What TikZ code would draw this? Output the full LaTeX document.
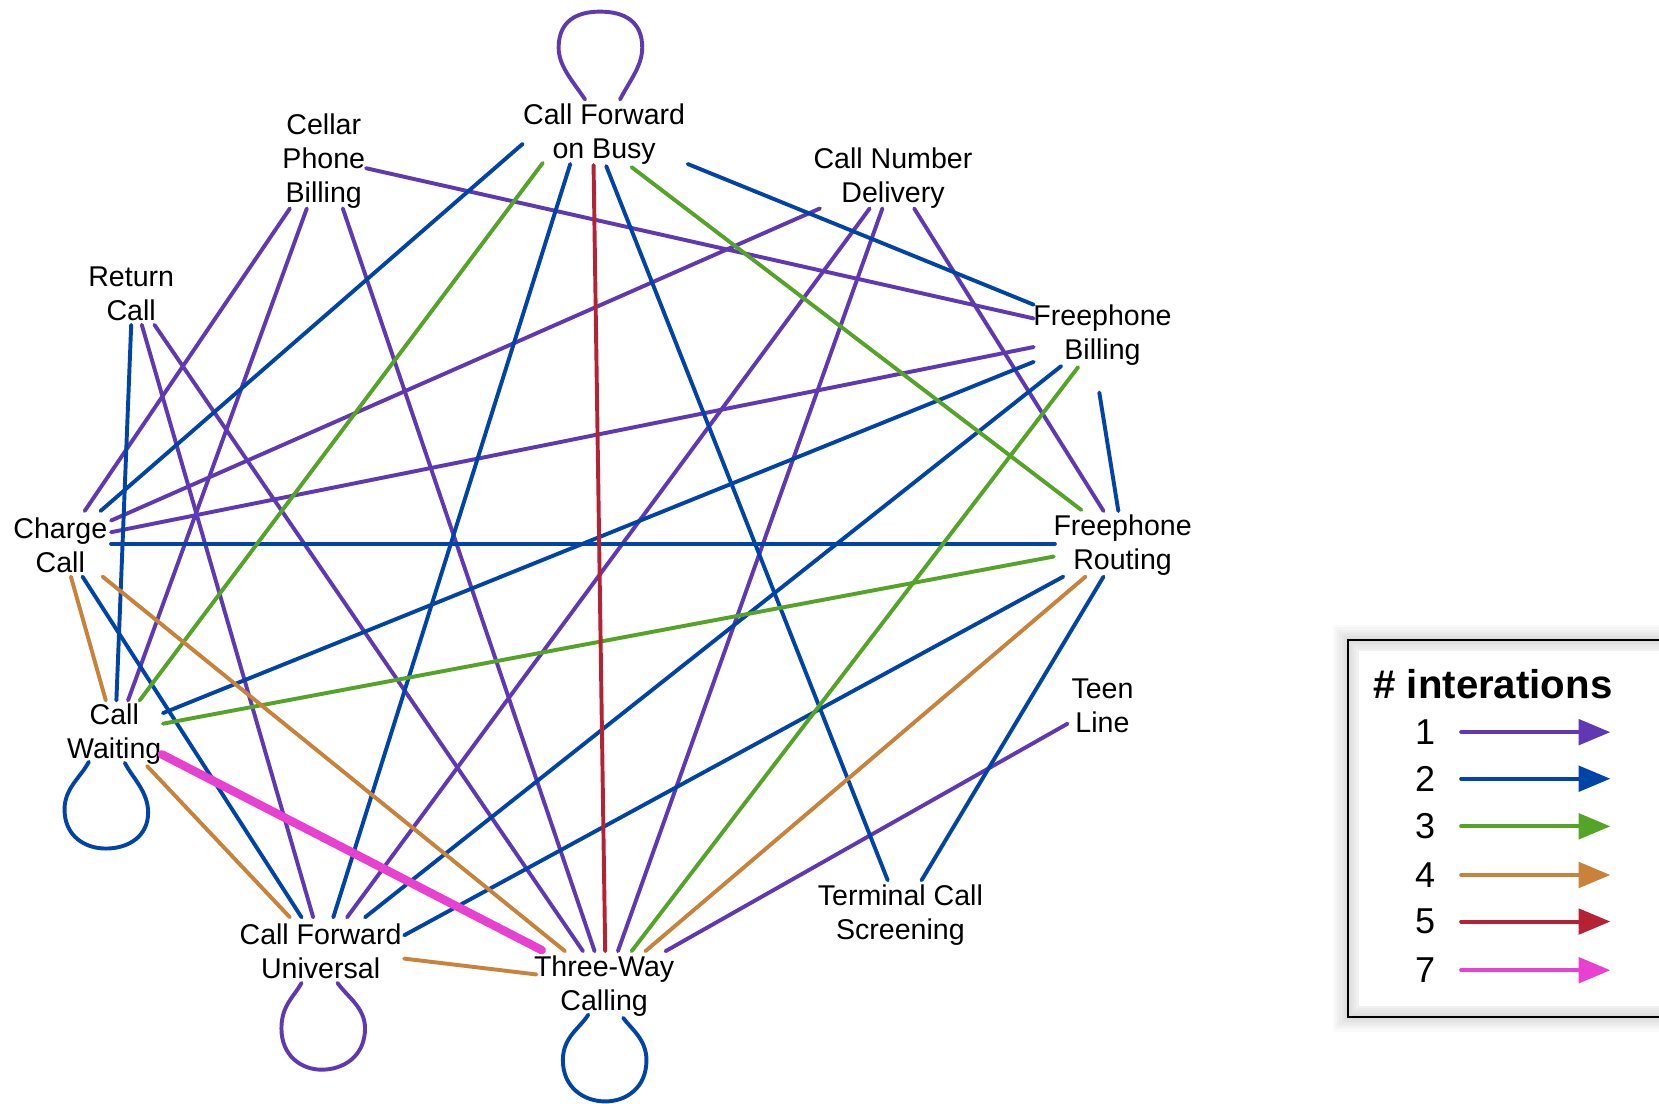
\documentclass[tikz,border=0pt]{standalone}
\usepackage{fontspec}
\setmainfont{Liberation Sans}
\usetikzlibrary{arrows.meta}
\definecolor{cP}{RGB}{96,56,180}
\definecolor{cB}{RGB}{0,68,168}
\definecolor{cG}{RGB}{84,164,40}
\definecolor{cO}{RGB}{200,130,58}
\definecolor{cR}{RGB}{180,34,52}
\definecolor{cM}{RGB}{232,64,208}
\newcommand\conn[5]{\draw[#1] ([shift={(#3)}]#2.center) -- ([shift={(#5)}]#4.center);}
\begin{document}
\begin{tikzpicture}[x=0.5pt,y=-0.5pt,
  lbl/.style={font=\fontsize{13.5}{16}\selectfont, align=center, inner sep=0pt},
  edg/.style={line width=1.85pt, line cap=round},
  p1/.style={edg, draw=cP},
  p2/.style={edg, draw=cB},
  p3/.style={edg, draw=cG},
  p4/.style={edg, draw=cO},
  p5/.style={edg, draw=cR},
  p7/.style={edg, draw=cM, line width=4pt},
  legarrow/.style={line width=1.9pt, line cap=round, -{Triangle[length=15pt,width=12pt]}},
  legnum/.style={font=\fontsize{17}{20}\selectfont, inner sep=0pt},
]
\useasboundingbox (0,0) rectangle (1568,1043);

% labels
\node[lbl] (cfb) at (571,127) {Call Forward\\on Busy};
\node[lbl] (cpb) at (306,152) {Cellar\\Phone\\Billing};
\node[lbl] (cnd) at (844,168) {Call Number\\Delivery};
\node[lbl] (rc)  at (124,278) {Return\\Call};
\node[lbl] (fb)  at (1042,317) {Freephone\\Billing};
\node[lbl] (cc)  at (57,515) {Charge\\Call};
\node[lbl] (fr)  at (1061,515) {Freephone\\Routing};
\node[lbl] (tl)  at (1042,667) {Teen\\Line};
\node[lbl] (cw)  at (108,694) {Call\\Waiting};
\node[lbl] (tcs) at (851,865) {Terminal Call\\Screening};
\node[lbl] (cfu) at (303,899) {Call Forward\\Universal};
\node[lbl] (twc) at (571,932) {Three-Way\\Calling};

% purple (1)
\conn{p1}{cpb}{40,7}{fb}{-65,-16}
\conn{p1}{cpb}{-32,45}{cc}{23,-32}
\conn{p1}{cpb}{-16,45}{cw}{13,-32}
\conn{p1}{cpb}{18,45}{twc}{-9,-33}
\conn{p1}{cnd}{-69,29}{cc}{48,-23}
\conn{p1}{cnd}{-22,29}{cfu}{25,-32}
\conn{p1}{cnd}{-10,29}{twc}{13,-33}
\conn{p1}{cnd}{20,29}{fr}{-18,-32}
\conn{p1}{fb}{-65,11}{cc}{48,-12}
\conn{p1}{rc}{10,29}{cfu}{-7,-32}
\conn{p1}{rc}{22,29}{twc}{-20,-33}
\conn{p1}{tl}{-33,17}{twc}{58,-33}

% blue (2)
\conn{p2}{cfb}{-77,9}{cc}{38,-32}
\conn{p2}{cfb}{-32,28}{cfu}{12,-32}
\conn{p2}{cfb}{2,30}{tcs}{-12,-33}
\conn{p2}{cfb}{79,28}{fb}{-65,-29}
\conn{p2}{rc}{0,29}{cw}{2,-32}
\conn{p2}{cc}{48,-1}{fr}{-64,-1}
\conn{p2}{cc}{21,30}{cfu}{-18,-32}
\conn{p2}{fb}{-65,25}{cw}{46,-20}
\conn{p2}{fb}{-39,29}{cfu}{42,-32}
\conn{p2}{fb}{-3,54}{fr}{-4,-32}
\conn{p2}{fr}{-56,30}{cfu}{79,-15}
\conn{p2}{fr}{-18,30}{tcs}{20,-33}

% green (3)
\conn{p3}{cfb}{-58,27}{cw}{24,-32}
\conn{p3}{cfb}{26,31}{fr}{-39,-33}
\conn{p3}{fb}{-23,30}{twc}{26,-33}
\conn{p3}{fr}{-65,11}{cw}{46,-10}

% orange (4)
\conn{p4}{cc}{10,30}{cw}{-8,-32}
\conn{p4}{cc}{40,30}{twc}{-37,-33}
\conn{p4}{cw}{31,30}{cfu}{-29,-32}
\conn{p4}{cfu}{79,7}{twc}{-64,-11}
\conn{p4}{fr}{-35,30}{twc}{39,-33}

% red (5)
\conn{p5}{cfb}{-10,29}{twc}{1,-33}

% magenta (7)
\conn{p7}{cw}{45,19}{twc}{-59,-34}

% self loops
\begin{scope}[shift={(cfb.center)}]
\draw[p1] (-18,-33) .. controls (-31,-52) and (-43,-65) .. (-43,-82)
  .. controls (-43,-107) and (-26,-116) .. (-4,-116)
  .. controls (19,-116) and (36,-107) .. (36,-82)
  .. controls (36,-65) and (25,-52) .. (15,-33);
\end{scope}
\begin{scope}[shift={(cw.center)}]
\draw[p2] (-24,26) .. controls (-32,41) and (-47,51) .. (-47,71)
  .. controls (-47,96) and (-28,108) .. (-8,108)
  .. controls (14,108) and (32,96) .. (32,74)
  .. controls (32,54) and (17,41) .. (10,27);
\end{scope}
\begin{scope}[shift={(cfu.center)}]
\draw[p1] (-18,30) .. controls (-25,43) and (-37,51) .. (-37,73)
  .. controls (-37,99) and (-18,112) .. (1,112)
  .. controls (22,112) and (42,99) .. (42,73)
  .. controls (42,53) and (25,43) .. (16,30);
\end{scope}
\begin{scope}[shift={(twc.center)}]
\draw[p2] (-15,27) .. controls (-23,40) and (-39,48) .. (-39,70)
  .. controls (-39,96) and (-19,109) .. (1,109)
  .. controls (21,109) and (40,96) .. (40,70)
  .. controls (40,50) and (25,40) .. (18,30);
\end{scope}

% legend
\foreach \d in {1,...,7} {
  \draw[black, opacity=0.018, line width=2*\d] (1274,605) rectangle (1620,961);
}
\fill[white] (1284,615) rectangle (1620,951);
\draw[black, line width=1pt] (1620,605) -- (1274,605) -- (1274,961) -- (1620,961);
\node[font=\fontsize{19}{22}\selectfont\bfseries, inner sep=0pt] (legt) at (1411,647) {\# interations};
\node[legnum] (n1) at (1347,692) {1};
\node[legnum] (n2) at (1347,736) {2};
\node[legnum] (n3) at (1347,781) {3};
\node[legnum] (n4) at (1347,827) {4};
\node[legnum] (n5) at (1347,871) {5};
\node[legnum] (n7) at (1347,917) {7};
\coordinate (a1s) at (1381,692); \coordinate (a1e) at (1522,692);
\coordinate (a2s) at (1381,736); \coordinate (a2e) at (1522,736);
\coordinate (a3s) at (1381,781); \coordinate (a3e) at (1522,781);
\coordinate (a4s) at (1381,827); \coordinate (a4e) at (1522,827);
\coordinate (a5s) at (1381,871); \coordinate (a5e) at (1522,871);
\coordinate (a7s) at (1381,917); \coordinate (a7e) at (1522,917);
\draw[legarrow, cP] (a1s) -- (a1e);
\draw[legarrow, cB] (a2s) -- (a2e);
\draw[legarrow, cG] (a3s) -- (a3e);
\draw[legarrow, cO] (a4s) -- (a4e);
\draw[legarrow, cR] (a5s) -- (a5e);
\draw[legarrow, cM] (a7s) -- (a7e);
\end{tikzpicture}
\end{document}
